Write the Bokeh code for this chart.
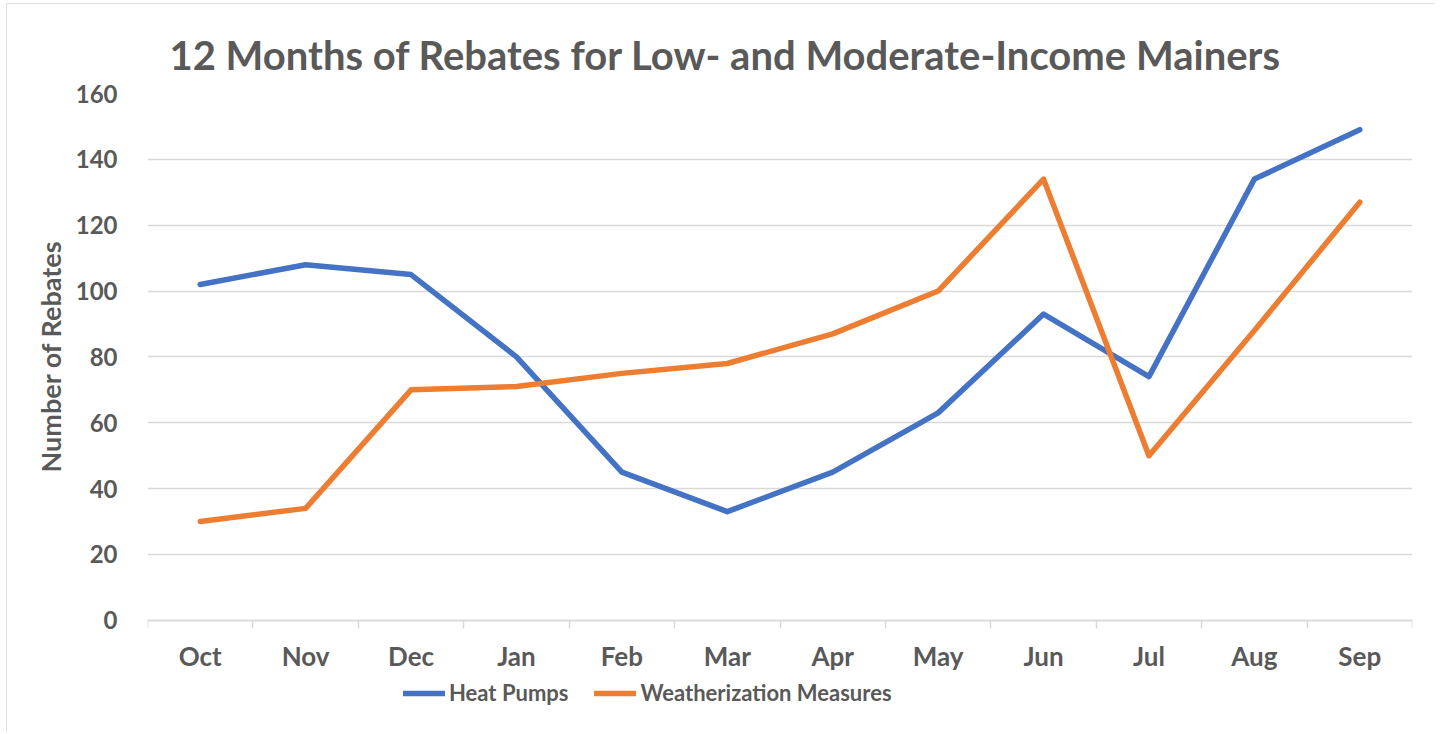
from bokeh.plotting import figure
from bokeh.models import (Range1d, FixedTicker, Legend, LegendItem, Title, ColumnDataSource)
from bokeh.embed import file_html
from bokeh.resources import INLINE

months = ["Oct", "Nov", "Dec", "Jan", "Feb", "Mar", "Apr", "May", "Jun", "Jul", "Aug", "Sep"]
heat_pumps = [102, 108, 105, 80, 45, 33, 45, 63, 93, 74, 134, 149]
weatherization = [30, 34, 70, 71, 75, 78, 87, 100, 134, 50, 88, 127]
y_ticks = [0, 20, 40, 60, 80, 100, 120, 140, 160]
title_text = "12 Months of Rebates for Low- and Moderate-Income Mainers"
y_label = "Number of Rebates"
series_names = ["Heat Pumps", "Weatherization Measures"]

BLUE = "#4472C4"
ORANGE = "#ED7D31"
TEXT = "#595959"
GRID = "#D9D9D9"
FONT = "Lato"

n = len(months)
centers = [i + 0.5 for i in range(n)]  # category slot centres on a 0..n axis
src = ColumnDataSource(dict(x=centers, month=months, hp=heat_pumps, wz=weatherization))

# the frame extends below 0 so that the axis labels and legend sit inside it
p = figure(width=1429, height=729, output_backend="svg", toolbar_location=None,
           x_range=Range1d(0, n), y_range=Range1d(-28, y_ticks[-1]),
           min_border_left=141, min_border_right=23,
           min_border_top=90, min_border_bottom=20)
p.outline_line_color = None
p.background_fill_color = "white"
p.border_fill_color = "white"
p.styles = {"outline": "2px solid #D9D9D9", "outline-offset": "-2px",
            "margin-left": "6px", "margin-top": "3px"}

# title
t = Title(text=title_text, align="left", offset=22, text_font=FONT, text_font_size="40px",
          text_font_style="bold", text_color=TEXT, standoff=30)
p.add_layout(t, "above")

# y axis title (placed as a side title so it can be positioned along the axis)
yt = Title(text=y_label, align="left", offset=240, text_font=FONT, text_font_size="27px",
           text_font_style="bold", text_color=TEXT, standoff=12)
p.add_layout(yt, "left")

# y axis
ya = p.yaxis[0]
ya.ticker = FixedTicker(ticks=y_ticks)
ya.axis_line_color = None
ya.major_tick_line_color = None
ya.minor_tick_line_color = None
ya.major_label_standoff = 24
ya.major_label_text_font = FONT
ya.major_label_text_font_size = "24px"
ya.major_label_text_font_style = "bold"
ya.major_label_text_color = TEXT

p.xgrid.visible = False
p.ygrid.grid_line_color = GRID
p.ygrid.grid_line_width = 1.5

# x axis at y = 0: labels at slot centres, tick marks at slot boundaries
xa = p.xaxis[0]
xa.fixed_location = 0
xa.ticker = FixedTicker(ticks=centers, minor_ticks=list(range(n + 1)))
xa.major_label_overrides = {c: m for c, m in zip(centers, months)}
xa.axis_line_color = GRID
xa.axis_line_width = 1.5
xa.major_tick_line_color = None
xa.minor_tick_line_color = GRID
xa.minor_tick_line_width = 1.5
xa.minor_tick_in = 0
xa.minor_tick_out = 8
xa.major_tick_in = 0
xa.major_tick_out = 0
xa.major_label_standoff = 12
xa.major_label_text_font = FONT
xa.major_label_text_font_size = "26px"
xa.major_label_text_font_style = "bold"
xa.major_label_text_color = TEXT

r1 = p.line("x", "hp", source=src, line_color=BLUE, line_width=5.5, line_cap="round", line_join="round")
r2 = p.line("x", "wz", source=src, line_color=ORANGE, line_width=5.5, line_cap="round", line_join="round")

legend = Legend(items=[LegendItem(label=series_names[0], renderers=[r1]),
                       LegendItem(label=series_names[1], renderers=[r2])],
                orientation="horizontal", location=(256, 6))
legend.border_line_color = None
legend.background_fill_alpha = 0
legend.padding = 0
legend.margin = 0
legend.spacing = 26
legend.glyph_width = 42
legend.glyph_height = 26
legend.label_height = 26
legend.label_standoff = 4
legend.label_text_font = FONT
legend.label_text_font_size = "22px"
legend.label_text_font_style = "bold"
legend.label_text_color = TEXT
p.add_layout(legend)

open("out.html", "w").write(file_html(p, INLINE))
